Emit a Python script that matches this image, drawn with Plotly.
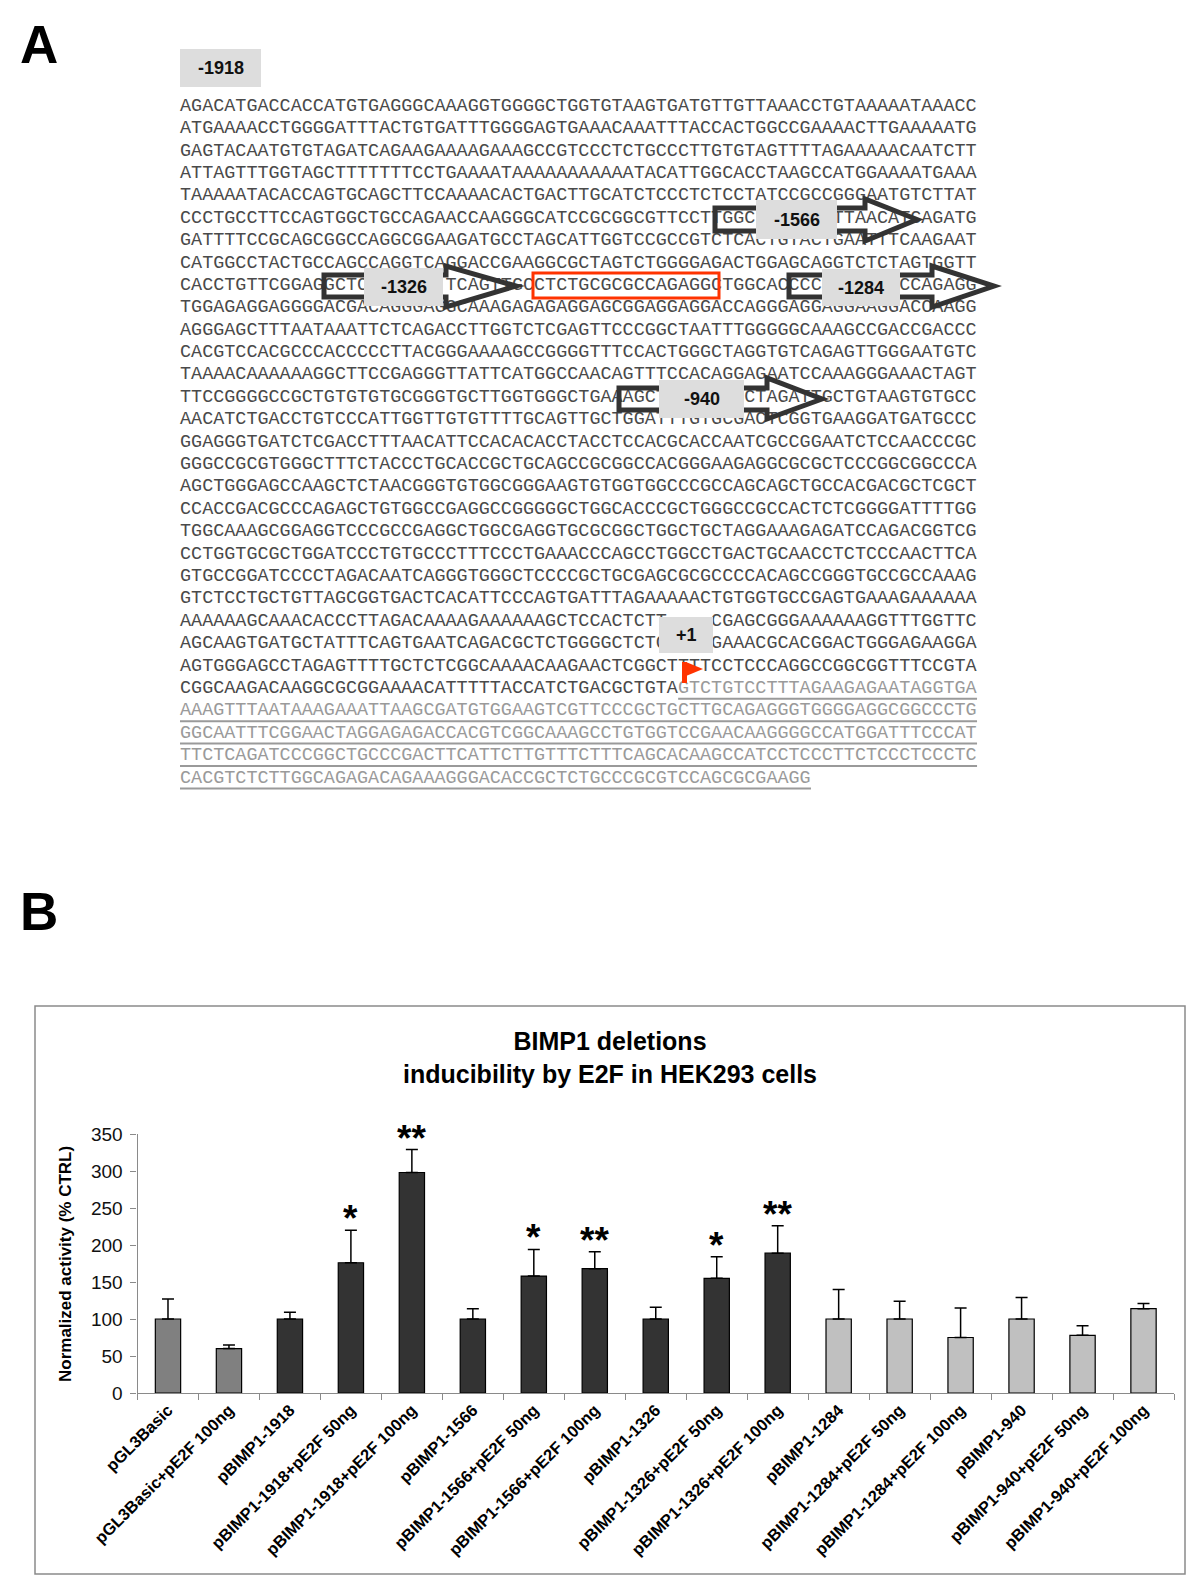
import plotly.graph_objects as go

W, H = 1200, 1587
OFF = 8  # the page places the figure 8 px from the window's top-left corner

# ---------------- data: panel B ----------------
categories = [
    "pGL3Basic", "pGL3Basic+pE2F 100ng",
    "pBIMP1-1918", "pBIMP1-1918+pE2F 50ng", "pBIMP1-1918+pE2F 100ng",
    "pBIMP1-1566", "pBIMP1-1566+pE2F 50ng", "pBIMP1-1566+pE2F 100ng",
    "pBIMP1-1326", "pBIMP1-1326+pE2F 50ng", "pBIMP1-1326+pE2F 100ng",
    "pBIMP1-1284", "pBIMP1-1284+pE2F 50ng", "pBIMP1-1284+pE2F 100ng",
    "pBIMP1-940", "pBIMP1-940+pE2F 50ng", "pBIMP1-940+pE2F 100ng",
]
values = [100, 60, 100, 176, 298, 100, 158, 168, 100, 155, 189, 100, 100, 75, 100, 78, 114]
err_up = [27, 5, 9, 44, 31, 14, 36, 23, 16, 29, 37, 40, 24, 40, 29, 13, 7]
err_down = [0] * len(values)
groups = ["ctrl", "ctrl",
          "dark", "dark", "dark", "dark", "dark", "dark", "dark", "dark", "dark",
          "light", "light", "light", "light", "light", "light"]
signif = ["", "", "", "*", "**", "", "*", "**", "", "*", "**", "", "", "", "", "", ""]
y_ticks = [0, 50, 100, 150, 200, 250, 300, 350]

# ---------------- data: panel A ----------------
# (blanks = bases hidden under the grey position labels)
seq_lines = [
    "AGACATGACCACCATGTGAGGGCAAAGGTGGGGCTGGTGTAAGTGATGTTGTTAAACCTGTAAAAATAAACC",
    "ATGAAAACCTGGGGATTTACTGTGATTTGGGGAGTGAAACAAATTTACCACTGGCCGAAAACTTGAAAAATG",
    "GAGTACAATGTGTAGATCAGAAGAAAAGAAAGCCGTCCCTCTGCCCTTGTGTAGTTTTAGAAAAACAATCTT",
    "ATTAGTTTGGTAGCTTTTTTTCCTGAAAATAAAAAAAAAAATACATTGGCACCTAAGCCATGGAAAATGAAA",
    "TAAAAATACACCAGTGCAGCTTCCAAAACACTGACTTGCATCTCCCTCTCCTATCCGCCGGGAATGTCTTAT",
    "CCCTGCCTTCCAGTGGCTGCCAGAACCAAGGGCATCCGCGGCGTTCCTTGGC       TTAACATCAGATG",
    "GATTTTCCGCAGCGGCCAGGCGGAAGATGCCTAGCATTGGTCCGCCGTCTCACTGTACTGAATTTCAAGAAT",
    "CATGGCCTACTGCCAGCCAGGTCAGGACCGAAGGCGCTAGTCTGGGGAGACTGGAGCAGGTCTCTAGTGGTT",
    "CACCTGTTCGGAGGCTC       TCAGTTGCCTCTGCGCGCCAGAGGCTGGCACCCC       CCAGAGG",
    "TGGAGAGGAGGGGACGACAGGGAGGCAAAGAGAGAGGAGCGGAGGAGGACCAGGGAGGAGGAAGGACCAAGG",
    "AGGGAGCTTTAATAAATTCTCAGACCTTGGTCTCGAGTTCCCGGCTAATTTGGGGGCAAAGCCGACCGACCC",
    "CACGTCCACGCCCACCCCCTTACGGGAAAAGCCGGGGTTTCCACTGGGCTAGGTGTCAGAGTTGGGAATGTC",
    "TAAAACAAAAAAGGCTTCCGAGGGTTATTCATGGCCAACAGTTTCCACAGGAGAATCCAAAGGGAAACTAGT",
    "TTCCGGGGCCGCTGTGTGTGCGGGTGCTTGGTGGGCTGAAAGCT       CTAGATTGCTGTAAGTGTGCC",
    "AACATCTGACCTGTCCCATTGGTTGTGTTTTGCAGTTGCTGGATTTGTGCGACTCGGTGAAGGATGATGCCC",
    "GGAGGGTGATCTCGACCTTTAACATTCCACACACCTACCTCCACGCACCAATCGCCGGAATCTCCAACCCGC",
    "GGGCCGCGTGGGCTTTCTACCCTGCACCGCTGCAGCCGCGGCCACGGGAAGAGGCGCGCTCCCGGCGGCCCA",
    "AGCTGGGAGCCAAGCTCTAACGGGTGTGGCGGGAAGTGTGGTGGCCCGCCAGCAGCTGCCACGACGCTCGCT",
    "CCACCGACGCCCAGAGCTGTGGCCGAGGCCGGGGGCTGGCACCCGCTGGGCCGCCACTCTCGGGGATTTTGG",
    "TGGCAAAGCGGAGGTCCCGCCGAGGCTGGCGAGGTGCGCGGCTGGCTGCTAGGAAAGAGATCCAGACGGTCG",
    "CCTGGTGCGCTGGATCCCTGTGCCCTTTCCCTGAAACCCAGCCTGGCCTGACTGCAACCTCTCCCAACTTCA",
    "GTGCCGGATCCCCTAGACAATCAGGGTGGGCTCCCCGCTGCGAGCGCGCCCCACAGCCGGGTGCCGCCAAAG",
    "GTCTCCTGCTGTTAGCGGTGACTCACATTCCCAGTGATTTAGAAAAACTGTGGTGCCGAGTGAAAGAAAAAA",
    "AAAAAAGCAAACACCCTTAGACAAAAGAAAAAAGCTCCACTCTT    CGAGCGGGAAAAAAGGTTTGGTTC",
    "AGCAAGTGATGCTATTTCAGTGAATCAGACGCTCTGGGGCTCTG    GAAACGCACGGACTGGGAGAAGGA",
    "AGTGGGAGCCTAGAGTTTTGCTCTCGGCAAAACAAGAACTCGGCTTTTCCTCCCAGGCCGGCGGTTTCCGTA",
    "CGGCAAGACAAGGCGCGGAAAACATTTTTACCATCTGACGCTGTAGTCTGTCCTTTAGAAGAGAATAGGTGA",
    "AAAGTTTAATAAAGAAATTAAGCGATGTGGAAGTCGTTCCCGCTGCTTGCAGAGGGTGGGGAGGCGGCCCTG",
    "GGCAATTTCGGAACTAGGAGAGACCACGTCGGCAAAGCCTGTGGTCCGAACAAGGGGCCATGGATTTCCCAT",
    "TTCTCAGATCCCGGCTGCCCGACTTCATTCTTGTTTCTTTCAGCACAAGCCATCCTCCCTTCTCCCTCCCTC",
    "CACGTCTCTTGGCAGAGACAGAAAGGGACACCGCTCTGCCCGCGTCCAGCGCGAAGG",
]
transcript_line = 26      # row where transcribed (grey, underlined) sequence begins
transcript_col = 45       # column where it begins on that row
site_labels = ["-1918", "-1566", "-1326", "-1284", "-940", "+1"]

# ---------------- layout constants (pixels of the screenshot) ----------------
SEQ_X0 = 180.0
CW = 11.07                # monospace character advance
SEQ_Y0 = 106.2
LH = 22.39
SEQ_FONT = CW / 0.6
TXT = "#4a4a4a"
GREY = "#9a9a9a"
ARROW = "#333333"
BOXC = "#dddddd"
RED = "#ff3300"

label_boxes = {   # x0, x1, y0, y1
    "-1918": (180, 261, 49, 87),
    "-1566": (756, 837, 200, 239),
    "-1326": (364, 443, 268, 306),
    "-1284": (822, 900, 269, 306),
    "-940": (659, 744, 380, 418),
    "+1": (659, 713, 617, 653),
}
arrows = [  # left, body_top, body_bottom, head_base_x, head_top, head_bottom, tip_x
    (715, 208, 231, 865, 199, 241, 917),
    (324, 275, 297, 446, 266, 307, 516),
    (789, 275, 297, 932, 266, 307, 994),
    (619, 388, 410, 767, 378, 419, 822),
]

shapes = []
annotations = []

def keep_spaces(s):
    return s.replace(" ", "\u00a0")

# ---------- sequence text (trace on a full-figure pixel axis) ----------
seq_text = []
seq_y = []
seq_x = []
for i, line in enumerate(seq_lines):
    if i < transcript_line:
        t = keep_spaces(line)
    elif i == transcript_line:
        t = keep_spaces(line[:transcript_col]) + "<span style='color:%s'>%s</span>" % (
            GREY, keep_spaces(line[transcript_col:]))
    else:
        t = "<span style='color:%s'>%s</span>" % (GREY, keep_spaces(line))
    seq_text.append(t)
    seq_y.append(SEQ_Y0 + i * LH)
    seq_x.append(SEQ_X0)
    if i >= transcript_line:
        c0 = transcript_col if i == transcript_line else 0
        uy = SEQ_Y0 + i * LH + 10.5
        shapes.append(dict(type="line", xref="x2", yref="y2",
                           x0=SEQ_X0 + c0 * CW, x1=SEQ_X0 + len(line) * CW, y0=uy, y1=uy,
                           line=dict(color=GREY, width=2), layer="above"))

# ---------- arrows ----------
for (l, bt, bb, hx, ht, hb, tx) in arrows:
    my = (bt + bb) / 2
    path = "M %s,%s L %s,%s L %s,%s L %s,%s L %s,%s L %s,%s L %s,%s Z" % (
        l, bt, hx, bt, hx, ht, tx, my, hx, hb, hx, bb, l, bb)
    shapes.append(dict(type="path", xref="x2", yref="y2", path=path,
                       line=dict(color=ARROW, width=5), fillcolor="rgba(0,0,0,0)", layer="above"))

# red box around E2F site
shapes.append(dict(type="rect", xref="x2", yref="y2", x0=533, x1=719, y0=273, y1=298,
                   line=dict(color=RED, width=3), fillcolor="rgba(0,0,0,0)", layer="above"))

# label boxes
for lab in site_labels:
    x0, x1, y0, y1 = label_boxes[lab]
    shapes.append(dict(type="rect", xref="x2", yref="y2", x0=x0, x1=x1, y0=y0, y1=y1,
                       line=dict(width=0), fillcolor=BOXC, layer="above"))
    annotations.append(dict(xref="x2", yref="y2", x=(x0 + x1) / 2, y=(y0 + y1) / 2,
                            text="<b>%s</b>" % lab, showarrow=False, xanchor="center", yanchor="middle",
                            font=dict(family="Liberation Sans, Arial", size=18, color="#111111")))

# transcription start flag
shapes.append(dict(type="rect", xref="x2", yref="y2", x0=682, x1=687, y0=662, y1=683,
                   line=dict(width=0), fillcolor=RED, layer="above"))
shapes.append(dict(type="path", xref="x2", yref="y2", path="M 686,662 L 703,669 L 686,676 Z",
                   line=dict(width=0), fillcolor=RED, layer="above"))

# panel letters
for letter, ly in (("A", 44), ("B", 911)):
    annotations.append(dict(xref="x2", yref="y2", x=39, y=ly, text="<b>%s</b>" % letter,
                            showarrow=False, xanchor="center", yanchor="middle",
                            font=dict(family="Liberation Sans, Arial", size=53, color="black")))

# panel B frame
shapes.append(dict(type="rect", xref="x2", yref="y2", x0=35, x1=1185, y0=1006, y1=1574,
                   line=dict(color="#8a8a8a", width=1.5), fillcolor="rgba(0,0,0,0)", layer="below"))

# chart title and y title
annotations.append(dict(xref="x2", yref="y2", x=610, y=1057,
                        text="<b>BIMP1 deletions<br>inducibility by E2F in HEK293 cells</b>",
                        showarrow=False, xanchor="center", yanchor="middle",
                        font=dict(family="Liberation Sans, Arial", size=25, color="black")))
annotations.append(dict(xref="x2", yref="y2", x=65, y=1264, textangle=-90,
                        text="<b>Normalized activity (% CTRL)</b>",
                        showarrow=False, xanchor="center", yanchor="middle",
                        font=dict(family="Liberation Sans, Arial", size=17, color="black")))

# significance stars
for cat, v, e, s in zip(categories, values, err_up, signif):
    if s:
        annotations.append(dict(xref="x", yref="y", x=cat, y=v + e, text="<b>%s</b>" % s,
                                showarrow=False, xanchor="center", yanchor="bottom", yshift=-11,
                                font=dict(family="Liberation Sans, Arial", size=37, color="black")))

group_colors = {"ctrl": "#808080", "dark": "#333333", "light": "#c0c0c0"}
bar_colors = [group_colors[g] for g in groups]

fig = go.Figure()
fig.add_trace(go.Bar(
    x=categories, y=values,
    marker=dict(color=bar_colors, line=dict(color="black", width=1.2)),
    error_y=dict(type="data", symmetric=False, array=err_up, arrayminus=err_down,
                 color="black", thickness=1.5, width=6),
    hoverinfo="skip", showlegend=False,
))
fig.add_trace(go.Scatter(
    x=seq_x, y=seq_y, text=seq_text, mode="text", textposition="middle right",
    textfont=dict(family="Liberation Mono, Courier New, monospace", size=SEQ_FONT, color=TXT),
    xaxis="x2", yaxis="y2", hoverinfo="skip", showlegend=False, cliponaxis=False,
))

# plot area of the bar chart, in screenshot pixels
PX0, PX1, PY_TOP, PY_BOT = 137.5, 1174, 1134, 1393

fig.update_layout(
    width=W, height=H, autosize=False,
    margin=dict(l=0, r=0, t=0, b=0, pad=0, autoexpand=False),
    paper_bgcolor="white", plot_bgcolor="rgba(0,0,0,0)",
    bargap=0.585,
    showlegend=False,
    xaxis=dict(domain=[(PX0 - OFF) / W, (PX1 - OFF) / W], type="category", tickangle=-45, automargin=False,
               tickfont=dict(family="Liberation Sans, Arial", size=16.5, color="black", weight="bold"),
               showline=True, linecolor="#8a8a8a", linewidth=1.2, ticks="outside", tickson="boundaries",
               ticklen=6, tickcolor="#8a8a8a", showgrid=False, zeroline=False, anchor="y"),
    yaxis=dict(domain=[1 - (PY_BOT - OFF) / H, 1 - (PY_TOP - OFF) / H], range=[0, 350], tickvals=y_ticks,
               automargin=False, ticklabelstandoff=4,
               tickfont=dict(family="Liberation Sans, Arial", size=19, color="#111111"),
               showline=True, linecolor="#8a8a8a", linewidth=1.2, ticks="outside", ticklen=6,
               tickcolor="#8a8a8a", showgrid=False, zeroline=False, anchor="x"),
    xaxis2=dict(domain=[0, 1], range=[OFF, W + OFF], visible=False, anchor="y2", fixedrange=True,
                automargin=False),
    yaxis2=dict(domain=[0, 1], range=[H + OFF, OFF], visible=False, anchor="x2", fixedrange=True,
                automargin=False),
    shapes=shapes,
    annotations=annotations,
)

fig.write_html("out.html")
